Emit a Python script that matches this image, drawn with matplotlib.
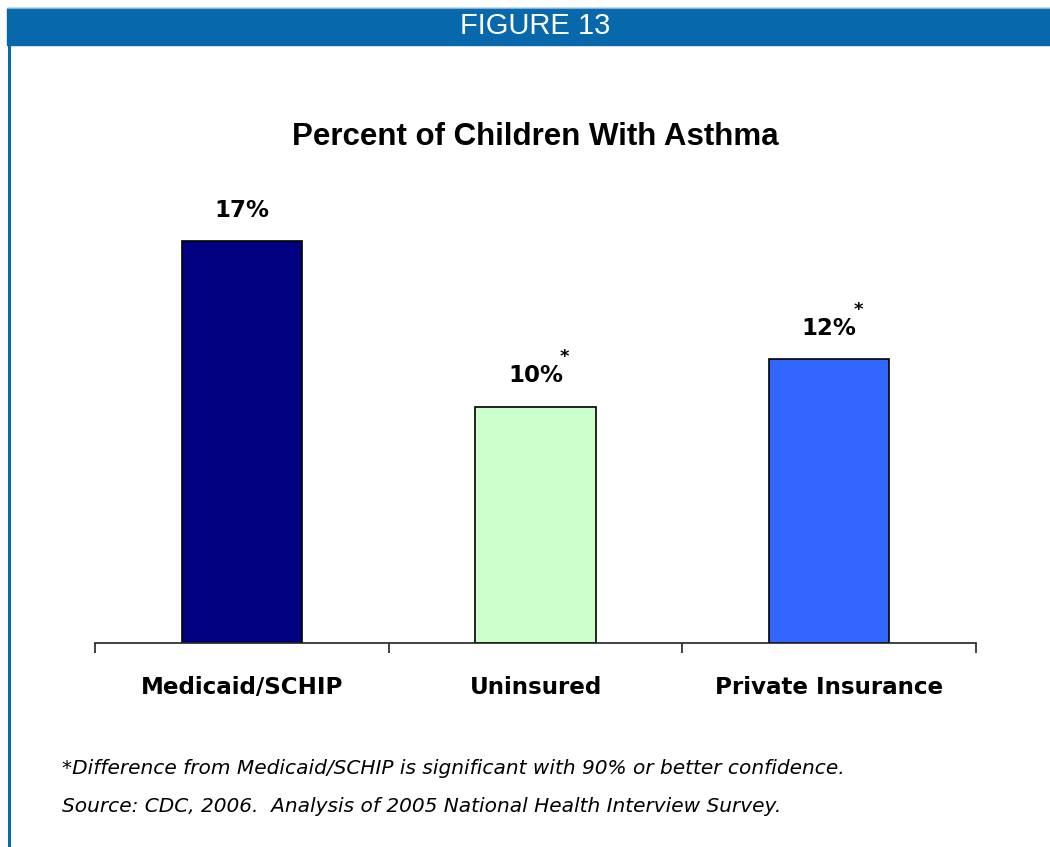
import matplotlib.pyplot as plt
import numpy as np
from matplotlib.patches import Rectangle
from matplotlib.lines import Line2D

categories = ['Medicaid/SCHIP', 'Uninsured', 'Private Insurance']
percent = [17, 10, 12]
flags = ['', '*', '*']
colors = ['#000080', '#CCFFCC', '#3366FF']

header_blue = '#0868AC'
W, H = 1050, 847

fig = plt.figure(figsize=(W / 100, H / 100), dpi=100)

# header band, thin light rule on top, and the left frame line
fig.patches.append(Rectangle((7 / W, 1 - 45 / H), 1 - 7 / W, 37 / H,
                             transform=fig.transFigure, color=header_blue, zorder=0))
fig.lines.append(Line2D([7 / W, 1], [1 - 8.5 / H, 1 - 8.5 / H],
                        transform=fig.transFigure, color='#7FB3D8', lw=0.8))
fig.lines.append(Line2D([8.5 / W, 8.5 / W], [0, 1 - 45 / H],
                        transform=fig.transFigure, color=header_blue, lw=2.2))
fig.text(535 / W, 1 - 25.5 / H, 'FIGURE 13', color='white', fontsize=21,
         family='Liberation Sans', ha='center', va='center')

fig.text(535 / W, 1 - 137 / H, 'Percent of Children With Asthma', fontsize=22.5,
         fontweight='bold', family='Liberation Sans', ha='center', va='center')

ax = fig.add_axes([95 / W, 1 - 643 / H, 881 / W, 473 / H])
x = np.arange(len(categories))
ax.bar(x, percent, width=0.41, color=colors, edgecolor='black', linewidth=1.2, zorder=2)

for xi, v, f in zip(x, percent, flags):
    ax.annotate(f'{v}%', (xi, v), xytext=(0, 14), textcoords='offset points',
                ha='center', va='bottom', fontsize=16.5, fontweight='bold')
    if f:
        ax.annotate(f, (xi, v), xytext=(21, 29), textcoords='offset points',
                    ha='center', va='bottom', fontsize=13, fontweight='bold')

ax.set_xlim(-0.5, 2.5)
ax.set_ylim(0, 20)
for s in ['top', 'right', 'left']:
    ax.spines[s].set_visible(False)
ax.spines['bottom'].set_color('#222222')
ax.spines['bottom'].set_linewidth(1.2)
ax.set_yticks([])

# tick marks sit between categories, labels at the centers
ax.set_xticks([-0.5, 0.5, 1.5, 2.5])
ax.set_xticklabels([])
ax.tick_params(axis='x', direction='out', length=7, width=1.2, color='#222222')
for xi, c in zip(x, categories):
    ax.text(xi, -1.9, c, ha='center', va='center', fontsize=16.6, fontweight='bold')

fig.text(62 / W, 1 - 768 / H,
         '*Difference from Medicaid/SCHIP is significant with 90% or better confidence.',
         fontsize=14.5, style='italic', ha='left', va='center')
fig.text(62 / W, 1 - 806 / H,
         'Source: CDC, 2006.  Analysis of 2005 National Health Interview Survey.',
         fontsize=14.5, style='italic', ha='left', va='center')

fig.savefig('out.png', dpi=100)
